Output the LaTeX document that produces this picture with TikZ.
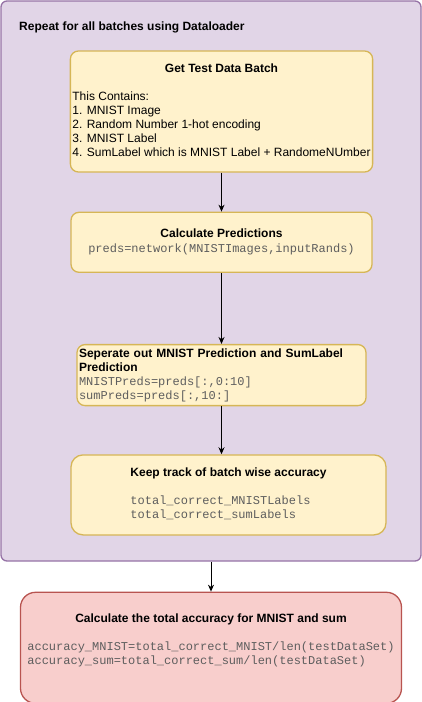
\documentclass[tikz,border=0pt]{standalone}
\usepackage{fontspec}
\setmainfont{Liberation Sans}
\setmonofont{Liberation Mono}
\usetikzlibrary{positioning,arrows.meta}

\definecolor{loopfill}{HTML}{E1D5E7}
\definecolor{loopdraw}{HTML}{9673A6}
\definecolor{stepfill}{HTML}{FFF2CC}
\definecolor{stepdraw}{HTML}{D6B656}
\definecolor{resultfill}{HTML}{F8CECC}
\definecolor{resultdraw}{HTML}{B85450}
\definecolor{codegray}{HTML}{5E5E5E}
\newcommand{\pycode}[1]{{\fontsize{12}{14}\selectfont\ttfamily\color{codegray}#1}}

\begin{document}
\begin{tikzpicture}[
	stepbox/.style = { draw=stepdraw, fill=stepfill, line width=1.3pt,
			rounded corners=8pt, inner sep=2pt, minimum width=301pt,
			font=\fontsize{12}{14}\selectfont },
	loopbox/.style = { draw=loopdraw, fill=loopfill, line width=1.3pt,
			rounded corners=6pt },
	resultbox/.style = { draw=resultdraw, fill=resultfill, line width=1.3pt,
			rounded corners=15pt, inner sep=2pt,
			font=\fontsize{12}{14}\selectfont },
	flow/.style = { -{Stealth[length=7pt,width=6pt]}, line width=0.9pt }]

  \useasboundingbox (0,0) rectangle (422pt,-702pt);

  \node[name=loop, loopbox, minimum width=420pt, minimum height=560pt] at (211pt,-281pt) {};
  \node[name=looptitle, anchor=base west, inner sep=0pt,
        font=\bfseries\fontsize{12}{14}\selectfont] at (19pt,-30pt)
    {Repeat for all batches using Dataloader};

  \node[name=getbatch, stepbox, minimum height=121pt] at (221.5pt,-111.5pt)
    {\begin{tabular}{@{}l@{}}
      \multicolumn{1}{@{}c@{}}{\bfseries Get Test Data Batch}\\
      \\
      This Contains:\\
      1. MNIST Image\\
      2. Random Number 1-hot encoding\\
      3. MNIST Label\\
      4. SumLabel which is MNIST Label + RandomeNUmber
     \end{tabular}};
  \node[name=predict, stepbox, minimum height=60pt, align=center, below=39pt of getbatch]
    {\textbf{Calculate Predictions}\\[1pt]
     \pycode{preds=network(MNISTImages,inputRands)}};
  \node[name=separate, stepbox, minimum width=289pt, minimum height=61pt,
        text width=285pt, align=left, below=71pt of predict]
    {\textbf{Seperate out MNIST Prediction and SumLabel}\\
     \textbf{Prediction}\\
     \pycode{MNISTPreds=preds[:,0:10]}\\
     \pycode{sumPreds=preds[:,10:]}};
  \node[name=track, stepbox, minimum width=315pt, minimum height=80pt,
        rounded corners=12pt, below=48pt of separate, xshift=7pt]
    {\begin{tabular}{@{}l@{}}
      \multicolumn{1}{@{}c@{}}{\bfseries Keep track of batch wise accuracy}\\
      \\
      \pycode{total\_correct\_MNISTLabels}\\
      \pycode{total\_correct\_sumLabels}
     \end{tabular}};
  \node[name=result, resultbox, minimum width=381pt, minimum height=111pt, below=30pt of loop]
    {\begin{tabular}{@{}l@{}}
      \multicolumn{1}{@{}c@{}}{\bfseries Calculate the total accuracy for MNIST and sum}\\
      \\
      \pycode{accuracy\_MNIST=total\_correct\_MNIST/len(testDataSet)}\\
      \pycode{accuracy\_sum=total\_correct\_sum/len(testDataSet)}\\
      \\
     \end{tabular}};

  \draw [flow] (getbatch) -- (predict);
  \draw [flow] (predict) -- (separate);
  \draw [flow] (separate) -- (separate |- track.north);
  \draw [flow] (loop) -- (result);
\end{tikzpicture}
\end{document}
